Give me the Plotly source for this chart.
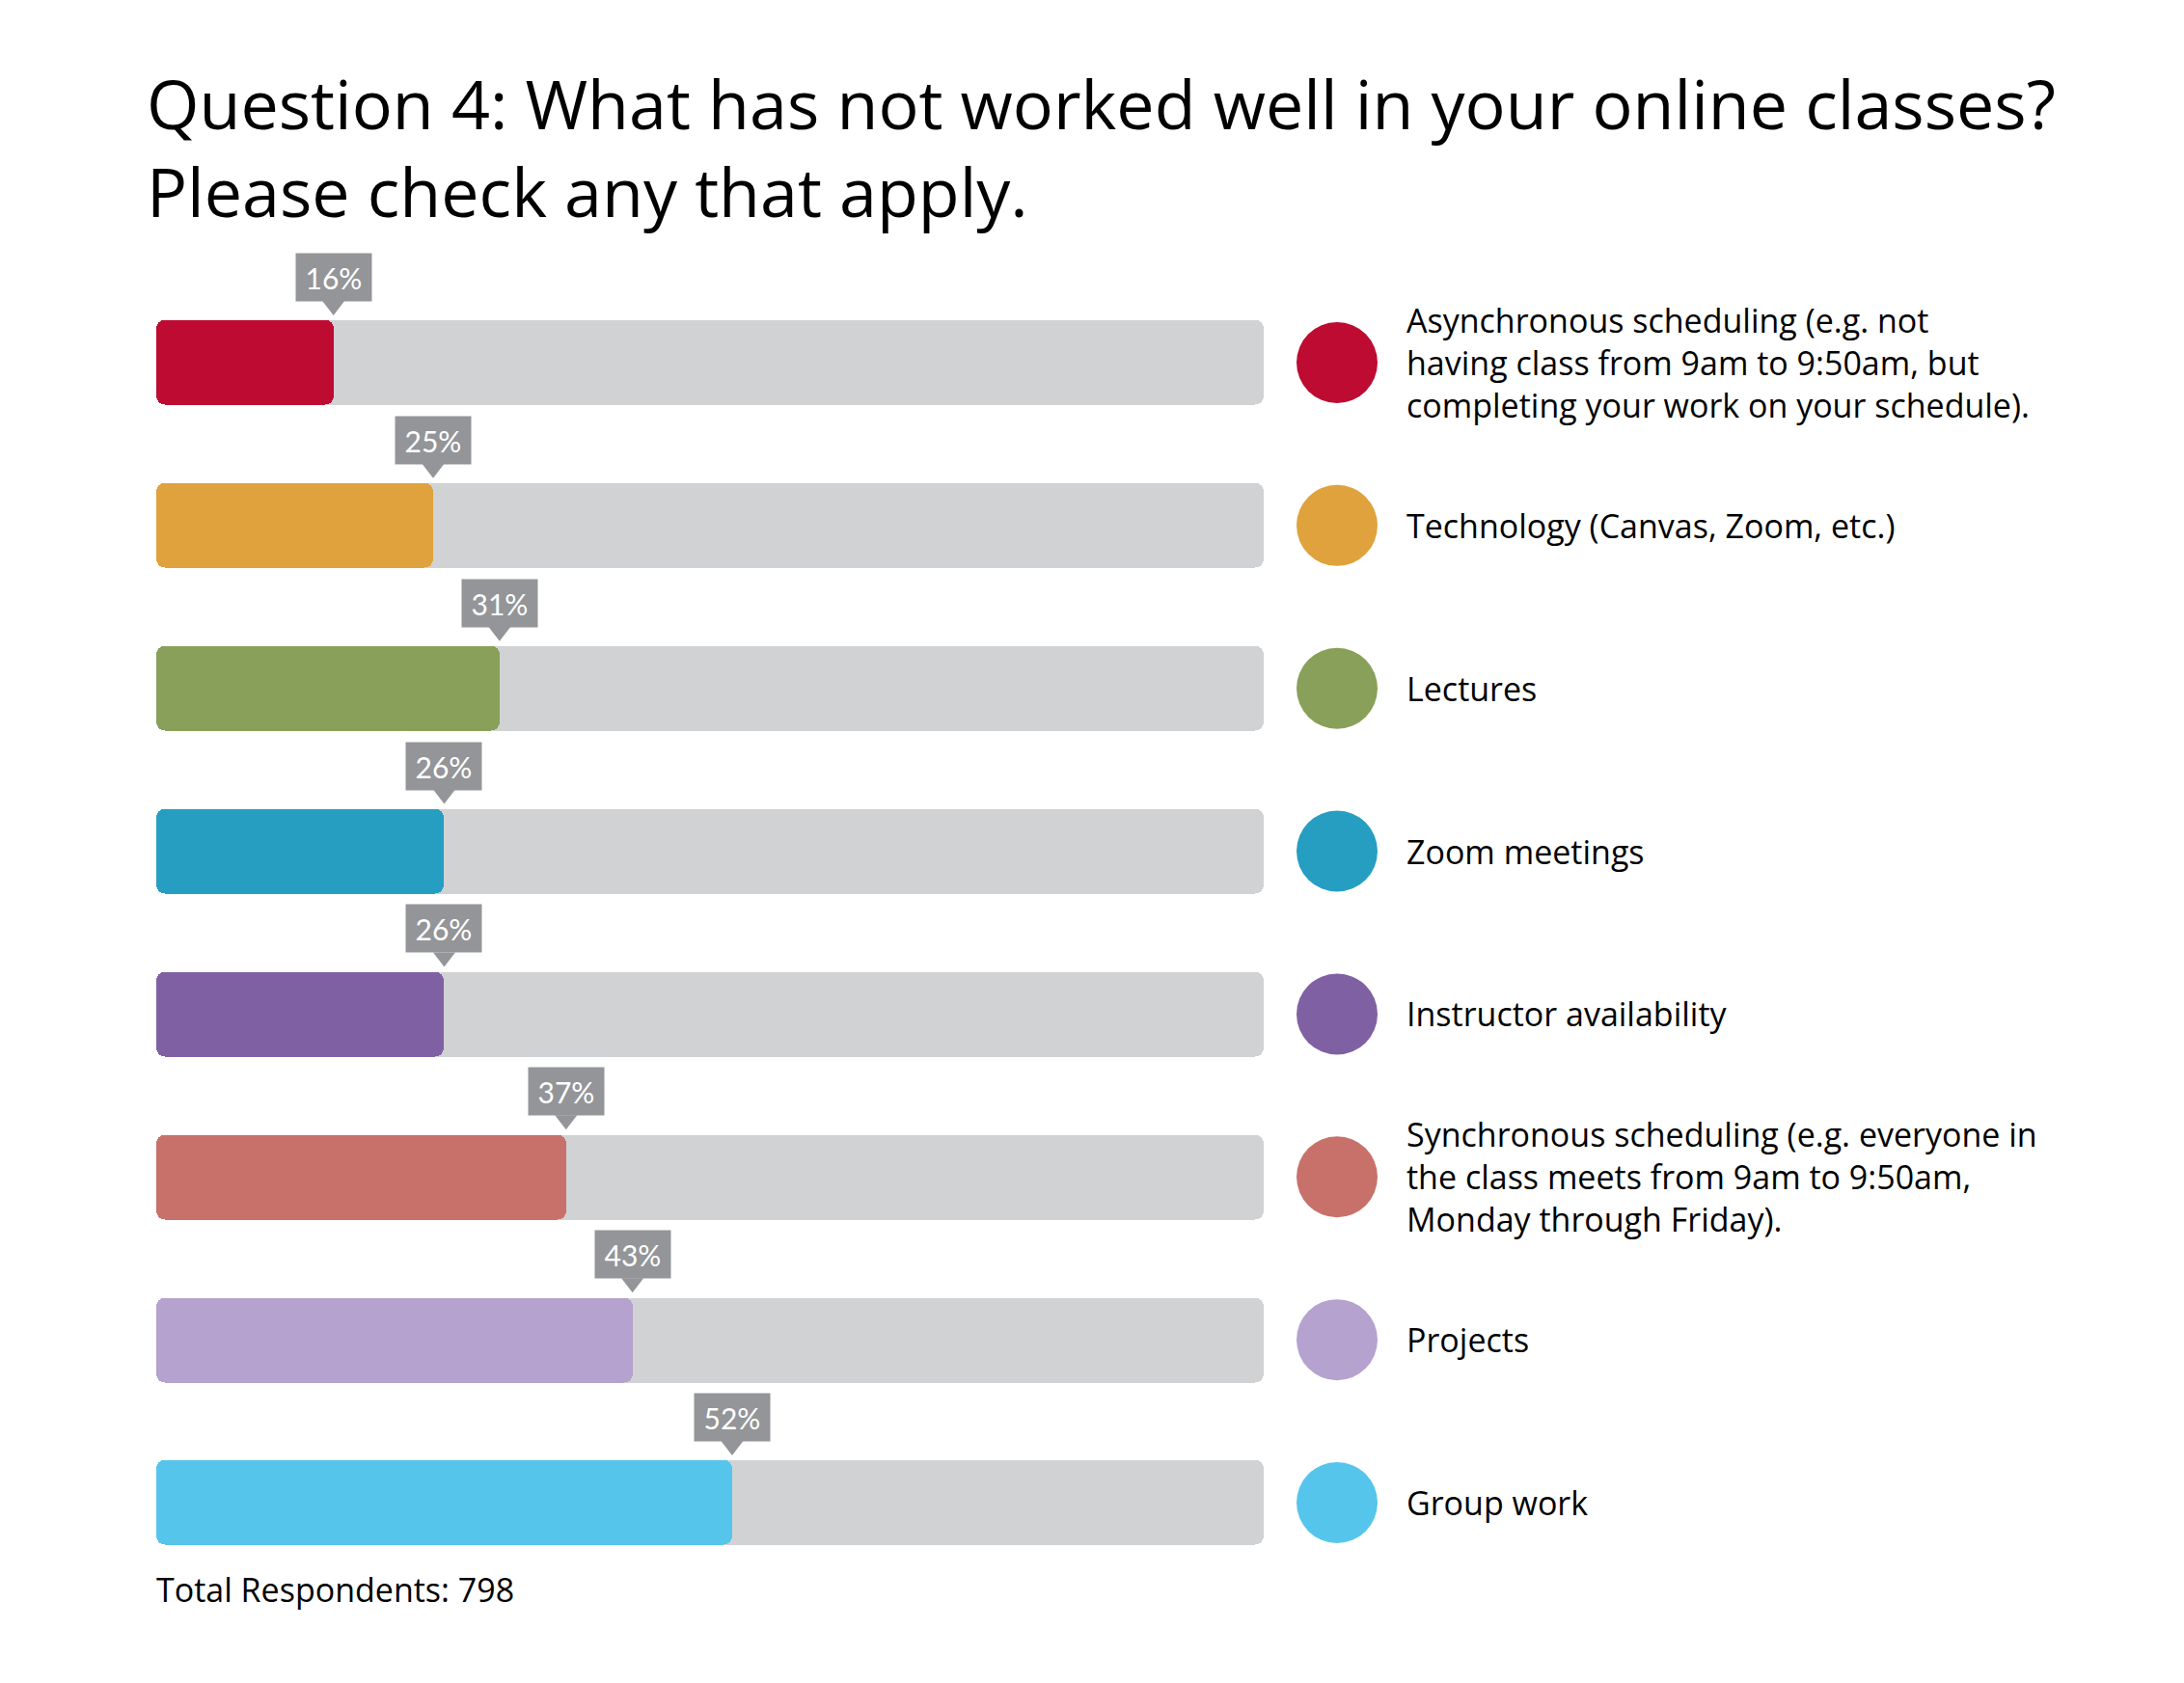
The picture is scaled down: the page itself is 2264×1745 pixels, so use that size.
import plotly.graph_objects as go

# ---------------- data ----------------
categories = [
    "Asynchronous scheduling (e.g. not<br>having class from 9am to 9:50am, but<br>completing your work on your schedule).",
    "Technology (Canvas, Zoom, etc.)",
    "Lectures",
    "Zoom meetings",
    "Instructor availability",
    "Synchronous scheduling (e.g. everyone in<br>the class meets from 9am to 9:50am,<br>Monday through Friday).",
    "Projects",
    "Group work",
]
percent = [16, 25, 31, 26, 26, 37, 43, 52]
colors = ["#BE0B31", "#DFA23D", "#88A059", "#269EC1", "#7F61A3", "#C8716A", "#B5A2CF", "#56C5EC"]
total_respondents = 798
title_lines = [
    "Question 4: What has not worked well in your online classes?",
    "Please check any that apply.",
]

# ---------------- layout constants ----------------
W, H = 2264, 1745
FONT = "Open Sans"
TAGFONT = "Lato"
TRACK = "#D1D2D4"
TAG = "#939598"
TXT = "#000000"
n = len(categories)
ypos = list(range(n))
first_c, last_c = 376, 1558
unit_px = (last_c - first_c) / (n - 1)
bar_w = 88 / unit_px
y_top_px = first_c - unit_px / 2
y_bot_px = last_c + unit_px / 2

fig = go.Figure()


def rounded_bars(values, color):
    # two overlapping halves so that both ends get rounded corners
    fig.add_trace(go.Bar(
        orientation="h", y=ypos, x=[-v * 0.6 for v in values], base=[v * 0.6 for v in values],
        width=bar_w, marker=dict(color=color, cornerradius=9, line_width=0),
        hoverinfo="skip", showlegend=False))
    fig.add_trace(go.Bar(
        orientation="h", y=ypos, x=[v * 0.6 for v in values], base=[v * 0.4 for v in values],
        width=bar_w, marker=dict(color=color, cornerradius=9, line_width=0),
        hoverinfo="skip", showlegend=False))


rounded_bars([100] * n, TRACK)
rounded_bars(percent, colors)

# pointer triangles of the value tags
tri_size = 20
tri_gap = 5
fig.add_trace(go.Scatter(
    x=percent, y=[i - bar_w / 2 - (tri_gap + tri_size / 2) / unit_px for i in ypos],
    mode="markers", marker=dict(symbol="triangle-down", size=tri_size, color=TAG, line_width=0),
    cliponaxis=False, hoverinfo="skip", showlegend=False))

# legend circles on a pixel-ranged helper axis
fig.add_trace(go.Scatter(
    x=[1386] * n, y=ypos, xaxis="x2", yaxis="y",
    mode="markers", marker=dict(size=84, color=colors, line_width=0),
    cliponaxis=False, hoverinfo="skip", showlegend=False))

annotations = []
for i, (v, cat) in enumerate(zip(percent, categories)):
    annotations.append(dict(
        x=v, y=i - bar_w / 2, xref="x", yref="y", xanchor="center", yanchor="bottom",
        yshift=tri_gap + 1.5 * tri_size / 2 - 1, text=f"{v}%", showarrow=False, bgcolor=TAG,
        width=76, height=47, font=dict(family=TAGFONT, size=30, color="white")))
    annotations.append(dict(
        x=1456, y=i, xref="x2", yref="y", xanchor="left", yanchor="middle", align="left",
        text=cat, showarrow=False, font=dict(family=FONT, size=34, color=TXT)))

annotations.append(dict(
    x=160 / W, y=(H - 1648) / H, xref="paper", yref="paper", xanchor="left", yanchor="middle",
    text=f"Total Respondents: {total_respondents}", showarrow=False,
    font=dict(family=FONT, size=34, color=TXT)))

annotations.append(dict(
    x=150 / W, y=(H - 153) / H, xref="paper", yref="paper", xanchor="left", yanchor="middle",
    align="left", text="<br>".join(title_lines), showarrow=False,
    font=dict(family=FONT, size=70, color=TXT)))

fig.update_layout(
    width=W, height=H, autosize=False,
    margin=dict(l=0, r=0, t=0, b=0, pad=0),
    paper_bgcolor="white", plot_bgcolor="rgba(0,0,0,0)",
    barmode="overlay", bargap=0,
    xaxis=dict(domain=[162 / W, 1310 / W], range=[0, 100], visible=False, fixedrange=True),
    xaxis2=dict(domain=[0, 1], range=[0, W], visible=False, anchor="y", fixedrange=True),
    yaxis=dict(domain=[(H - y_bot_px) / H, (H - y_top_px) / H], range=[n - 0.5, -0.5],
               visible=False, fixedrange=True),
    annotations=annotations,
    showlegend=False,
)

fig.write_html("out.html")
